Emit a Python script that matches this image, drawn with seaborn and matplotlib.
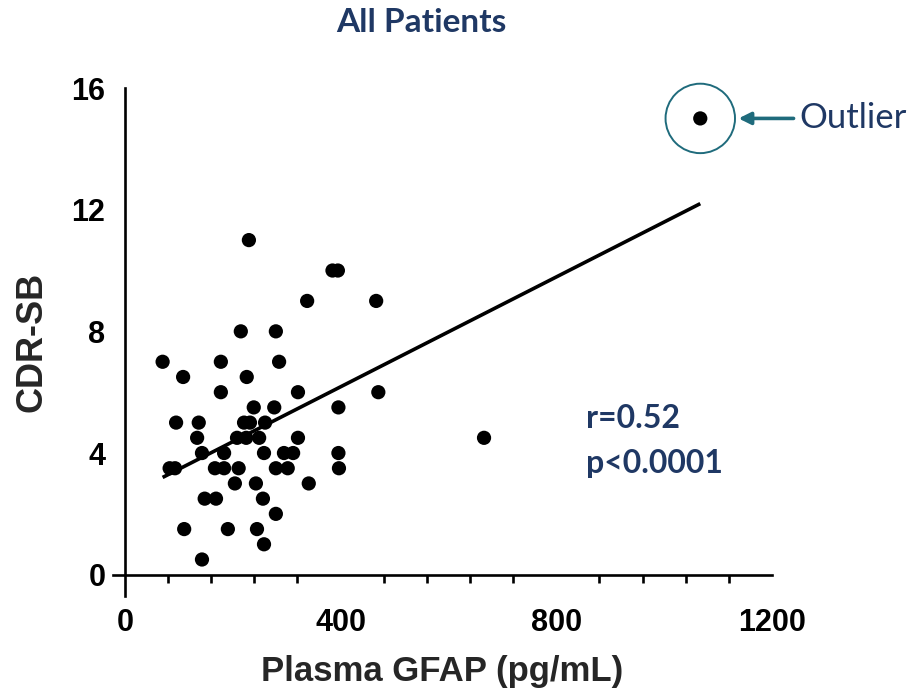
import numpy as np
import pandas as pd
import matplotlib
matplotlib.use("Agg")
import matplotlib.pyplot as plt
import seaborn as sns
from matplotlib.ticker import MultipleLocator

# Data
gfap = [230, 215, 70, 178, 108, 226, 178, 239, 95, 137, 221, 232, 260, 134, 208, 225,
        249, 143, 184, 258, 83, 93, 167, 184, 211, 204, 243, 148, 169, 256, 110, 191,
        245, 258, 143, 321, 470, 277, 396, 321, 295, 312, 396, 280, 302, 397, 341, 280,
        385, 395, 338, 466, 280, 286, 666, 1067]
cdrsb = [11, 8, 7, 7, 6.5, 6.5, 6, 5.5, 5, 5, 5, 5, 5, 4.5, 4.5, 4.5,
         4.5, 4, 4, 4, 3.5, 3.5, 3.5, 3.5, 3.5, 3, 3, 2.5, 2.5, 2.5, 1.5, 1.5,
         1.5, 1, 0.5, 6, 6, 5.5, 5.5, 4.5, 4, 4, 4, 3.5, 3.5, 3.5, 3, 2,
         10, 10, 9, 9, 8, 7, 4.5, 15]
outlier = (1067, 15)
x_ticks = [0, 400, 800, 1200]
y_ticks = [0, 4, 8, 12, 16]
title = "All Patients"
stats_text = "r=0.52\np<0.0001"

df = pd.DataFrame({"gfap": gfap, "cdrsb": cdrsb})

sns.set_theme(style="white")
plt.rcParams["font.family"] = ["Liberation Sans", "DejaVu Sans"]

navy = "#1F3864"
teal = "#1F6B7C"

fig = plt.figure(figsize=(9.16, 6.93), dpi=100)
ax = fig.add_axes([113/916, 1-596/693, (772-113)/916, (596-88)/693])

sns.regplot(data=df, x="gfap", y="cdrsb", scatter=False, ci=None, ax=ax,
            line_kws=dict(color="black", lw=2.6, solid_capstyle="butt"))
sns.scatterplot(data=df, x="gfap", y="cdrsb", ax=ax, color="black", s=105,
                edgecolor="none", zorder=3)

ax.set_xlim(-22, 1200)
ax.set_ylim(-0.7, 16)
ax.spines["left"].set_position(("data", 0))
ax.spines["bottom"].set_position(("data", 0))
for s in ["top", "right"]:
    ax.spines[s].set_visible(False)
for s in ["left", "bottom"]:
    ax.spines[s].set_linewidth(1.9)
    ax.spines[s].set_color("black")

ax.set_xticks(x_ticks)
ax.set_xticklabels([str(t) for t in x_ticks], fontsize=22, fontweight="bold")
ax.set_yticks(y_ticks)
ax.set_yticklabels([str(t) for t in y_ticks], fontsize=22, fontweight="bold")
ax.xaxis.set_minor_locator(MultipleLocator(80))
ax.tick_params(axis="both", which="major", direction="out", length=9, width=1.9,
               color="black", labelcolor="black", pad=5)
ax.tick_params(axis="x", which="minor", direction="out", length=6, width=1.9,
               color="black", bottom=True)
ax.tick_params(axis="x", which="major", length=10, pad=14)

ax.set_xlabel("Plasma GFAP (pg/mL)", fontsize=25, fontweight="bold")
ax.set_ylabel("CDR-SB", fontsize=26, fontweight="bold")
ax.xaxis.set_label_coords(0.5, -0.117)
ax.yaxis.set_label_coords(-0.097, 0.5)

fig.text(421/916, 1-22/693, title, ha="center", va="center", fontsize=24,
         fontweight="bold", color=navy, family=["Lato", "DejaVu Sans"])

ax.text(855, 4.4, stats_text, ha="left", va="center", fontsize=23, fontweight="bold",
        color=navy, family=["Lato", "DejaVu Sans"], linespacing=1.65)

# outlier circle, arrow and label
ax.scatter([outlier[0]], [outlier[1]], s=2500, facecolor="none", edgecolor=teal,
           linewidth=1.4, zorder=2, clip_on=False)
ax.annotate("", xy=(1138, outlier[1]), xytext=(1240, outlier[1]),
            arrowprops=dict(arrowstyle="-|>,head_length=0.6,head_width=0.3",
                            color=teal, lw=2.6, shrinkA=0, shrinkB=0),
            annotation_clip=False)
ax.text(1250, outlier[1], "Outlier", ha="left", va="center", fontsize=25,
        color=navy, family=["Lato", "DejaVu Sans"], clip_on=False)

fig.savefig("out.png", dpi=100)
